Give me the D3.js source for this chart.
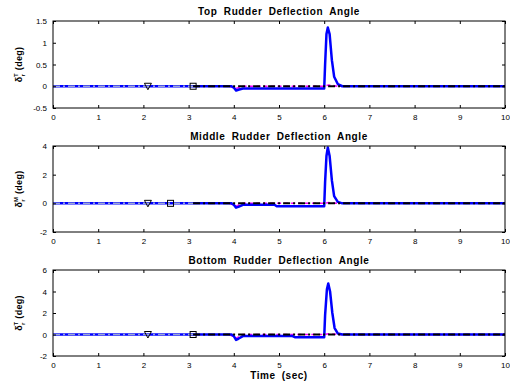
<!DOCTYPE html>
<html>
<head>
<meta charset="utf-8">
<script src="https://cdn.jsdelivr.net/npm/d3@7"></script>
<style>
  body { margin: 0; background: #fff; }
  svg { font-family: Arial, "Liberation Sans", Helvetica, sans-serif; }
</style>
</head>
<body>
<div id="chart"></div>
<script>
// panel titles and y labels
const titles = ['Top Rudder Deflection Angle', 'Middle Rudder Deflection Angle', 'Bottom Rudder Deflection Angle'];
const supers = ['T', 'M', 'T'];
const yDomains = [[-0.5, 1.5], [-2, 4], [-2, 6]];
const yTickValues = [[-0.5, 0, 0.5, 1, 1.5], [-2, 0, 2, 4], [-2, 0, 2, 4, 6]];
const xTickValues = [0, 1, 2, 3, 4, 5, 6, 7, 8, 9, 10];

// blue: actual deflection (time, deg)
const blueTop = [[0, 0], [3.95, 0], [4.0, -0.03], [4.05, -0.1], [4.1, -0.08], [4.2, -0.05], [6.0, -0.05],
  [6.02, 0.5], [6.05, 1.2], [6.08, 1.35], [6.12, 1.2], [6.17, 0.6], [6.22, 0.22], [6.3, 0.05], [6.4, 0], [10, 0]];
const blueMid = [[0, 0], [3.95, 0], [4.0, -0.1], [4.05, -0.3], [4.1, -0.25], [4.2, -0.1], [4.9, -0.1], [4.95, -0.2],
  [6.0, -0.2], [6.02, 1.5], [6.05, 3.3], [6.08, 3.9], [6.12, 3.3], [6.17, 1.6], [6.22, 0.5], [6.3, 0.1], [6.4, 0], [10, 0]];
const blueBot = [[0, 0], [3.95, 0], [4.0, -0.15], [4.05, -0.5], [4.1, -0.4], [4.2, -0.15], [5.3, -0.15], [5.35, -0.25],
  [6.0, -0.25], [6.02, 1.8], [6.06, 4.2], [6.09, 4.75], [6.13, 4.0], [6.18, 2.0], [6.23, 0.6], [6.3, 0.1], [6.4, 0], [10, 0]];
const blueSeries = [blueTop, blueMid, blueBot];

// magenta dashed: command
const magTop = [[3.9, 0], [4.05, -0.05], [4.2, 0], [6.0, 0], [6.1, 0.03], [6.3, 0], [10, 0]];
const magMid = [[3.9, 0], [4.05, -0.2], [4.2, 0], [6.0, 0], [6.1, 0.05], [6.3, 0], [10, 0]];
const magBot = [[3.9, 0], [4.05, -0.35], [4.2, 0], [6.0, 0], [6.1, 0.08], [6.3, 0], [10, 0]];
const magSeries = [magTop, magMid, magBot];

// gray and black dash-dot reference lines
const grayLine = [[0, 0], [3.1, 0]];
const blackLine = [[3.1, 0], [10, 0]];

// markers (triangle, square)
const triX = [2.1, 2.1, 2.1];
const sqX = [3.1, 2.6, 3.1];

const W = 510, H = 382;
const left = 53, right = 505;
const panels = [{ top: 21, bottom: 108 }, { top: 146, bottom: 232 }, { top: 270, bottom: 356 }];

const svg = d3.select('#chart').append('svg')
  .attr('width', W)
  .attr('height', H);

const x = d3.scaleLinear().domain([0, 10]).range([left, right]);

panels.forEach((p, i) => {
  const y = d3.scaleLinear().domain(yDomains[i]).range([p.bottom, p.top]);
  const g = svg.append('g');

  // title
  g.append('text')
    .attr('x', (left + right) / 2)
    .attr('y', p.top - 6)
    .attr('text-anchor', 'middle')
    .attr('font-size', 10)
    .attr('font-weight', 'bold')
    .attr('letter-spacing', 0.6)
    .attr('word-spacing', 3)
    .text(titles[i]);

  const line = d3.line().x((d) => x(d[0])).y((d) => y(d[1]));

  // data lines, clipped to plot
  const clipId = `clip${i}`;
  g.append('clipPath').attr('id', clipId)
    .append('rect')
    .attr('x', left).attr('y', p.top)
    .attr('width', right - left).attr('height', p.bottom - p.top);
  const plot = g.append('g').attr('clip-path', `url(#${clipId})`);

  plot.append('path').datum(magSeries[i])
    .attr('fill', 'none').attr('stroke', '#ff00ff').attr('stroke-width', 1.5)
    .attr('stroke-dasharray', '4,3')
    .attr('d', line);

  plot.append('path').datum(blueSeries[i])
    .attr('fill', 'none').attr('stroke', '#0000ff').attr('stroke-width', 2.5)
    .attr('stroke-linejoin', 'round')
    .attr('d', line);

  plot.append('path').datum(grayLine)
    .attr('fill', 'none').attr('stroke', '#9aa6d8').attr('stroke-width', 1.5)
    .attr('stroke-dasharray', '7,3,2,3')
    .attr('d', line);

  plot.append('path').datum(blackLine)
    .attr('fill', 'none').attr('stroke', '#000').attr('stroke-width', 2)
    .attr('stroke-dasharray', '7,3,2,3')
    .attr('d', line);

  // markers
  const tx = x(triX[i]);
  const ty = y(0);
  g.append('path')
    .attr('d', `M${tx - 3.5},${ty - 3}L${tx + 3.5},${ty - 3}L${tx},${ty + 3.5}Z`)
    .attr('fill', 'none').attr('stroke', '#000').attr('stroke-width', 1);
  g.append('rect')
    .attr('x', x(sqX[i]) - 3).attr('y', y(0) - 3)
    .attr('width', 6).attr('height', 6)
    .attr('fill', 'none').attr('stroke', '#000').attr('stroke-width', 1);

  // frame
  g.append('rect')
    .attr('x', left).attr('y', p.top)
    .attr('width', right - left).attr('height', p.bottom - p.top)
    .attr('fill', 'none').attr('stroke', '#000').attr('stroke-width', 1);

  // axes with inward ticks
  const xb = g.append('g')
    .attr('transform', `translate(0, ${p.bottom})`)
    .call(d3.axisBottom(x).tickValues(xTickValues).tickSize(-3).tickPadding(6).tickFormat(d3.format('d')));
  const xt = g.append('g')
    .attr('transform', `translate(0, ${p.top})`)
    .call(d3.axisTop(x).tickValues(xTickValues).tickSize(-3).tickFormat(''));
  const yl = g.append('g')
    .attr('transform', `translate(${left}, 0)`)
    .call(d3.axisLeft(y).tickValues(yTickValues[i]).tickSize(-3).tickPadding(6).tickFormat((d) => `${d}`));
  const yr = g.append('g')
    .attr('transform', `translate(${right}, 0)`)
    .call(d3.axisRight(y).tickValues(yTickValues[i]).tickSize(-3).tickFormat(''));

  [xb, xt, yl, yr].forEach((a) => {
    a.select('.domain').remove();
    a.selectAll('text').attr('font-size', 8).attr('font-family', 'Arial, "Liberation Sans", sans-serif').attr('fill', '#000');
  });

  // y label
  const cy = (p.top + p.bottom) / 2;
  const lbl = g.append('text')
    .attr('transform', `translate(22, ${cy}) rotate(-90)`)
    .attr('text-anchor', 'middle')
    .attr('font-size', 9)
    .attr('font-weight', 'bold')
    .attr('letter-spacing', 0.3);
  lbl.append('tspan').text('δ');
  lbl.append('tspan').attr('font-size', 6).attr('dy', 3).text('r');
  lbl.append('tspan').attr('font-size', 6).attr('dy', -7).attr('dx', -3).text(supers[i]);
  lbl.append('tspan').attr('dy', 4).text('  (deg)');
});

svg.append('text')
  .attr('x', (left + right) / 2)
  .attr('y', 379)
  .attr('text-anchor', 'middle')
  .attr('font-size', 10)
  .attr('font-weight', 'bold')
  .attr('letter-spacing', 0.5)
  .attr('word-spacing', 3)
  .text('Time (sec)');
</script>
</body>
</html>
